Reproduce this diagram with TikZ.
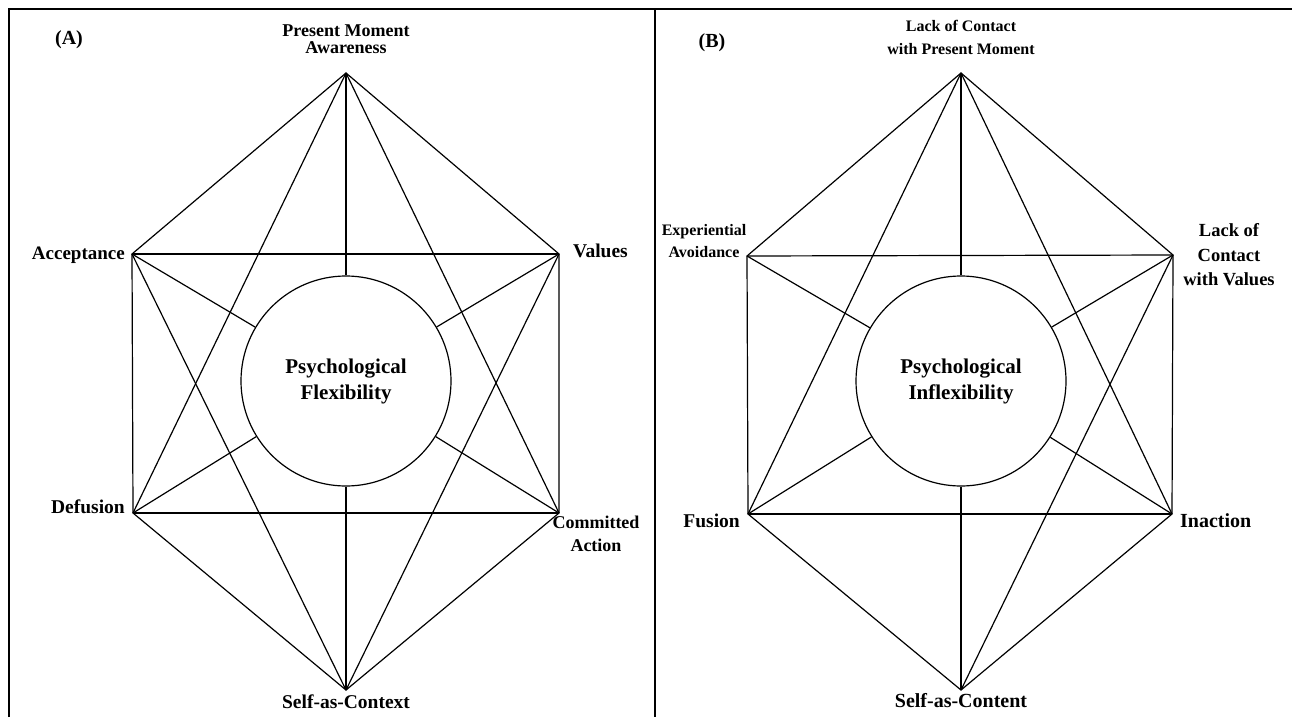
\documentclass[tikz,border=0pt]{standalone}
\usepackage{fontspec}
\setmainfont{Liberation Serif}
\begin{document}
\begin{tikzpicture}[x=1pt,y=-1pt,
  lbl/.style={font=\bfseries, inner sep=0pt, align=center},
  ln/.style={line width=1.2pt},
  framel/.style={line width=1.8pt},
  hub/.style={draw, circle, line width=1.2pt, minimum size=210pt, inner sep=0pt, align=center}]
\useasboundingbox (0,0) rectangle (1292,717);
% frame
\coordinate (f1) at (9,717);
\coordinate (f2) at (9,9);
\coordinate (f3) at (1292,9);
\coordinate (m1) at (655,9);
\coordinate (m2) at (655,717);
\draw[framel] (f1) -- (f2) -- (f3);
\draw[framel] (m1) -- (m2);

% ---------------- Panel A
\coordinate (aT) at (346,73);
\coordinate (aAc) at (132,254);
\coordinate (aV) at (559,254);
\coordinate (aD) at (133,513);
\coordinate (aCA) at (559,513);
\coordinate (aS) at (346,690);
\node[hub, font=\bfseries\fontsize{21}{26}\selectfont] (aC) at (346,381) {Psychological\\Flexibility};
\draw[ln] (aT) -- (aAc) -- (aD) -- (aS) -- (aCA) -- (aV) -- cycle;
\draw[ln] (aAc) -- (aV);
\draw[ln] (aD) -- (aCA);
\draw[ln] (aT) -- (aD);
\draw[ln] (aT) -- (aCA);
\draw[ln] (aS) -- (aAc);
\draw[ln] (aS) -- (aV);
\foreach \v in {aT,aAc,aV,aD,aCA,aS} \draw[ln] (\v) -- (aC);

\node[lbl, font=\bfseries\fontsize{20}{20}\selectfont, anchor=base] (aLab) at (69,45) {(A)};
\node[lbl, font=\bfseries\fontsize{18}{17}\selectfont, anchor=south] (aTl) at (346,53.5) {Present Moment\\Awareness};
\node[lbl, font=\bfseries\fontsize{19}{19}\selectfont, anchor=base east] (aAcl) at (125,259) {Acceptance};
\node[lbl, font=\bfseries\fontsize{19.5}{19}\selectfont, anchor=base west] (aVl) at (573,257) {Values};
\node[lbl, font=\bfseries\fontsize{19.5}{19}\selectfont, anchor=base east] (aDl) at (125,513) {Defusion};
\node[lbl, font=\bfseries\fontsize{18}{23}\selectfont, anchor=south] (aCAl) at (596,552) {Committed\\Action};
\node[lbl, font=\bfseries\fontsize{19.5}{19}\selectfont, anchor=base] (aSl) at (346,708) {Self-as-Context};

% ---------------- Panel B
\coordinate (bT) at (961,73);
\coordinate (bE) at (747,256);
\coordinate (bV) at (1173,255);
\coordinate (bF) at (748,514);
\coordinate (bI) at (1172,514);
\coordinate (bS) at (961,690);
\node[hub, font=\bfseries\fontsize{21}{26}\selectfont] (bC) at (961,381) {Psychological\\Inflexibility};
\draw[ln] (bT) -- (bE) -- (bF) -- (bS) -- (bI) -- (bV) -- cycle;
\draw[ln] (bE) -- (bV);
\draw[ln] (bF) -- (bI);
\draw[ln] (bT) -- (bF);
\draw[ln] (bT) -- (bI);
\draw[ln] (bS) -- (bV);
\foreach \v in {bT,bE,bV,bF,bI,bS} \draw[ln] (\v) -- (bC);

\node[lbl, font=\bfseries\fontsize{20}{20}\selectfont, anchor=base] (bLab) at (712,48) {(B)};
\node[lbl, font=\bfseries\fontsize{16}{23}\selectfont, anchor=south] (bTl) at (961,55) {Lack of Contact\\with Present Moment};
\node[lbl, font=\bfseries\fontsize{16}{22}\selectfont, anchor=south] (bEl) at (704,258) {Experiential\\Avoidance};
\node[lbl, font=\bfseries\fontsize{18.5}{24.5}\selectfont, anchor=south] (bVl) at (1229,286) {Lack of\\Contact\\with Values};
\node[lbl, font=\bfseries\fontsize{19.5}{19}\selectfont, anchor=base east] (bFl) at (740,527) {Fusion};
\node[lbl, font=\bfseries\fontsize{20}{19}\selectfont, anchor=base west] (bIl) at (1180,527) {Inaction};
\node[lbl, font=\bfseries\fontsize{20}{19}\selectfont, anchor=base] (bSl) at (961,707) {Self-as-Content};
\end{tikzpicture}
\end{document}
